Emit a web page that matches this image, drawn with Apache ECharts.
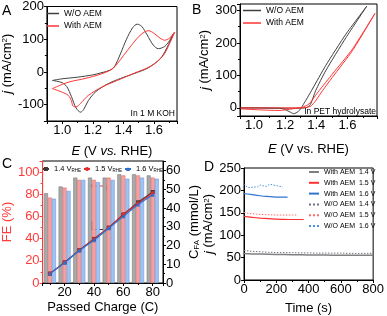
<!DOCTYPE html>
<html><head><meta charset="utf-8">
<script src="https://cdn.jsdelivr.net/npm/echarts@6/dist/echarts.min.js"></script>
<style>html,body{margin:0;padding:0;background:#fff}#c{width:387px;height:316px}</style>
</head><body><div id="c"></div>
<script>
const FF = 'Liberation Sans';
// ---------- Panel A: CV in 1 M KOH ----------
const cvA_woAEM = [[0.936,-26],[1.0,-21],[1.1,-16],[1.2,-9],[1.26,-2],[1.31,5],[1.34,15],[1.38,55],[1.42,100],[1.46,135],[1.49,146],[1.52,139],[1.555,113],[1.595,82],[1.628,71],[1.67,78],[1.70,95],[1.73,120],
  [1.68,70],[1.64,40],[1.56,12],[1.47,-5],[1.38,-20],[1.30,-36],[1.22,-60],[1.17,-88],[1.14,-115],[1.12,-123],[1.09,-110],[1.06,-75],[1.03,-45],[1.0,-33],[0.936,-26]];
const cvA_withAEM = [[0.936,-51],[1.0,-38],[1.05,-30],[1.15,-20],[1.25,-7],[1.32,7],[1.36,25],[1.40,50],[1.45,80],[1.50,108],[1.54,123],[1.565,126],[1.60,118],[1.64,103],[1.67,97],[1.70,103],[1.735,121],
  [1.70,85],[1.66,50],[1.58,18],[1.47,-4],[1.36,-26],[1.26,-46],[1.17,-72],[1.12,-96],[1.09,-107],[1.07,-104],[1.06,-88],[1.04,-72],[1.0,-62],[0.936,-51]];
const xTicksA = [1.0,1.2,1.4,1.6];
const yTicksA = [-100,0,100,200];
// ---------- Panel B: PET hydrolysate ----------
const cvB_woAEM = [[0.914,0],[1.0,0],[1.1,-1],[1.18,-2],[1.225,-11],[1.255,-18],[1.285,-11],[1.31,5],[1.375,58],[1.46,130],[1.59,227],[1.724,313],
  [1.59,216],[1.46,114],[1.396,53],[1.364,12],[1.343,2],[1.3,-1],[1.2,-1],[1.0,0],[0.914,0]];
const cvB_withAEM = [[0.914,-3],[1.03,-6],[1.16,-8],[1.246,-3],[1.31,2],[1.353,12],[1.418,53],[1.503,104],[1.632,181],[1.777,291],
  [1.632,176],[1.503,94],[1.44,53],[1.396,22],[1.364,5],[1.31,0],[1.1,0],[0.914,0]];
const xTicksB = [1.0,1.2,1.4,1.6];
const yTicksB = [0,100,200,300];
// ---------- Panel C: FE and C_FA ----------
const charge = [10,20,30,40,50,60,70,80];
const fe14 = [81,87,95,95,95,98,98,97];
const fe15 = [77,86,93,93,95,97,97,95];
const fe16 = [76,83,93,91,93,94,95,94];
const cfa14 = [5,11,17.5,23.5,29.5,36.5,43,48.5];
const cfa15 = [5,11,17.5,23.5,29.5,36.5,42.5,48];
const cfa16 = [5,10.8,17.3,22.8,29.2,35.5,41.8,47];
const xTicksC = [20,40,60,80];
const yTicksCL = [0,20,40,60,80,100];
const yTicksCR = [0,10,20,30,40,50,60];
// ---------- Panel D: chronoamperometry ----------
const tD_14 = [0,50,100,150,200,250,300,350,400,450,500,550,600,650,700,750,800];
const jWith14 = [59,58,58,57.5,57,57,56.5,56.5,56,56,56,55.5,55.5,55.5,55,55,55];
const jWo14 = [66,64,63,62,61.5,61,61,60.5,60.5,60,60,60,60,59.5,59.5,59.5,59.5];
const tD_with15 = [0,25,50,75,100,125,150,175,200,225,250,275,300,325,350,370];
const jWith15 = [142,141,140,139,138,137.5,137,136.5,136,135.5,135.5,135,135,135,135,135];
const tD_wo15 = [0,25,50,75,100,125,150,175,200,225,250,275,300,330];
const jWo15 = [151,149,148,147,146.5,146,145.5,145.5,145,145,145,145,145,145];
const tD_with16 = [0,20,40,60,80,100,120,140,160,180,200,220,240,260,270];
const jWith16 = [193,192,191,190,189,188,187,186.5,186,185.5,185,185,185,185,185];
const tD_wo16 = [0,10,20,30,40,50,60,70,80,90,100,110,120,130,140,150,160,170,180,190,200,210,220,230,240];
const jWo16 = [215,212,207,209,206,210,208,211,207,209,212,208,210,213,209,211,214,210,212,216,211,215,209,212,208];
const xTicksD = [0,200,400,600,800];

const zip = (xs, ys) => xs.map((x,i)=>[x, ys[i]]);
const inList = (list) => (v) => list.some(t => Math.abs(t - v) < 1e-6) ? String(Number(v.toFixed(1))) : '';
const DOTS = 'path://M0,0h2v2h-2z M4,0h2v2h-2z M8,0h2v2h-2z';

function axisCommon(color){
  color = color || '#000';
  return {
    axisLine: {show: true, onZero: false, lineStyle: {color: color, width: 1}},
    axisTick: {show: true, inside: false, length: 3, lineStyle: {color: color, width: 1}},
    minorTick: {show: true, splitNumber: 2, length: 2, lineStyle: {color: color, width: 1}},
    splitLine: {show: false},
    axisLabel: {fontFamily: FF, fontSize: 13, color: color, margin: 3},
  };
}
const rich = {
  i: {fontStyle: 'italic', fontFamily: FF, fontSize: 13, color: '#000'},
  sup: {fontFamily: FF, fontSize: 8, verticalAlign: 'top', color: '#000'},
  n: {fontFamily: FF, fontSize: 13, color: '#000'}
};

const chart = echarts.init(document.getElementById('c'));
const option = {
  animation: false,
  textStyle: {fontFamily: FF},
  grid: [
    {left: 45, top: 5, width: 132, height: 116, show: true, borderColor: '#000', borderWidth: 1},
    {left: 240, top: 4, width: 137, height: 112, show: true, borderColor: '#000', borderWidth: 1},
    {left: 41, top: 161, width: 122, height: 122, show: true, borderColor: '#000', borderWidth: 1},
    {left: 244, top: 168, width: 131, height: 112, show: true, borderColor: '#000', borderWidth: 1}
  ],
  xAxis: [
    Object.assign(axisCommon(), {type: 'value', gridIndex: 0, min: 0.9, max: 1.75,
      axisLabel: Object.assign(axisCommon().axisLabel, {formatter: v => inList(xTicksA)(v) ? v.toFixed(1) : ''}),
      name: '{i|E} (V {i|vs.} RHE)', nameLocation: 'middle', nameGap: 24,
      nameTextStyle: {fontFamily: FF, fontSize: 13, color: '#000', rich: rich}}),
    Object.assign(axisCommon(), {type: 'value', gridIndex: 1, min: 0.91, max: 1.79,
      axisLabel: Object.assign(axisCommon().axisLabel, {formatter: v => inList(xTicksB)(v) ? v.toFixed(1) : ''}),
      name: '{i|E} (V vs. RHE)', nameLocation: 'middle', nameGap: 27,
      nameTextStyle: {fontFamily: FF, fontSize: 13, color: '#000', rich: rich}}),
    Object.assign(axisCommon(), {type: 'value', gridIndex: 2, min: 5, max: 87,
      axisLabel: Object.assign(axisCommon().axisLabel, {formatter: v => inList(xTicksC)(v)}),
      name: 'Passed Charge (C)', nameLocation: 'middle', nameGap: 18,
      nameTextStyle: {fontFamily: FF, fontSize: 13, color: '#000'}}),
    Object.assign(axisCommon(), {type: 'value', gridIndex: 3, min: 0, max: 800, interval: 200,
      axisLabel: Object.assign(axisCommon().axisLabel, {formatter: v => inList(xTicksD)(v)}),
      name: 'Time (s)', nameLocation: 'middle', nameGap: 22,
      nameTextStyle: {fontFamily: FF, fontSize: 13, color: '#000'}})
  ],
  yAxis: [
    Object.assign(axisCommon(), {type: 'value', gridIndex: 0, min: -150, max: 200,
      axisLabel: Object.assign(axisCommon().axisLabel, {formatter: v => inList(yTicksA)(v)}),
      name: '{i|j} (mA/cm{sup|2})', nameLocation: 'middle', nameGap: 28, nameRotate: 90,
      nameTextStyle: {fontFamily: FF, fontSize: 13, color: '#000', rich: rich}}),
    Object.assign(axisCommon(), {type: 'value', gridIndex: 1, min: -25, max: 320, splitNumber: 3,
      axisLabel: Object.assign(axisCommon().axisLabel, {formatter: v => inList(yTicksB)(v)}),
      name: '{i|j} (mA/cm{sup|2})', nameLocation: 'middle', nameGap: 28, nameRotate: 90,
      nameTextStyle: {fontFamily: FF, fontSize: 13, color: '#000', rich: rich}}),
    Object.assign(axisCommon('#ff3b3b'), {type: 'value', gridIndex: 2, min: 0, max: 110, position: 'left',
      axisLabel: Object.assign(axisCommon('#ff3b3b').axisLabel, {formatter: v => inList(yTicksCL)(v)}),
      name: 'FE (%)', nameLocation: 'middle', nameGap: 26, nameRotate: 90,
      nameTextStyle: {fontFamily: FF, fontSize: 13, color: '#ff3b3b'}}),
    Object.assign(axisCommon(), {type: 'value', gridIndex: 2, min: 0, max: 65, position: 'right',
      axisLabel: Object.assign(axisCommon().axisLabel, {formatter: v => inList(yTicksCR)(v)}),
      name: '{n|C}{sup2|FA} (mmol/L)', nameLocation: 'middle', nameGap: 25, nameRotate: 90,
      nameTextStyle: {fontFamily: FF, fontSize: 13, color: '#000',
        rich: {n: {fontFamily: FF, fontSize: 13, color: '#000'}, sup2: {fontFamily: FF, fontSize: 8, verticalAlign: 'bottom', color: '#000'}}}}),
    Object.assign(axisCommon(), {type: 'value', gridIndex: 3, min: 0, max: 250, interval: 50,
      minorTick: {show: false},
      name: '{i|j} (mA/cm{sup|2})', nameLocation: 'middle', nameGap: 28, nameRotate: 90,
      nameTextStyle: {fontFamily: FF, fontSize: 13, color: '#000', rich: rich}})
  ],
  legend: [
    {id: 'lgA', data: ['W/O AEM', 'With AEM'], left: 47, top: 9, orient: 'vertical', itemGap: 3.5, itemWidth: 12, itemHeight: 1.5,
      icon: 'rect', textStyle: {fontFamily: FF, fontSize: 8.5, color: '#000', lineHeight: 9}, padding: 0},
    {id: 'lgB', data: ['W/O AEM', 'With AEM'], left: 243, top: 6, orient: 'vertical', itemGap: 3.5, itemWidth: 18, itemHeight: 1.5,
      icon: 'rect', textStyle: {fontFamily: FF, fontSize: 8.5, color: '#000', lineHeight: 9}, padding: 0},
    {id: 'lgC', data: ['1.4 V', '1.5 V', '1.6 V'], left: 42, top: 165, orient: 'horizontal', itemGap: 2, itemWidth: 6, itemHeight: 5,
      formatter: n => '{a|' + n + '}{s|RHE}',
      textStyle: {fontFamily: FF, fontSize: 7.5, color: '#000', rich: {a: {fontFamily: FF, fontSize: 7.5}, s: {fontFamily: FF, fontSize: 4.5, verticalAlign: 'bottom'}}}, padding: 0},
    {id: 'lgD', data: [
        {name: 'With AEM  1.4 V', icon: 'rect'}, {name: 'With AEM  1.5 V', icon: 'rect'}, {name: 'With AEM  1.6 V', icon: 'rect'},
        {name: 'W/O AEM  1.4 V', icon: DOTS}, {name: 'W/O AEM  1.5 V', icon: DOTS}, {name: 'W/O AEM  1.6 V', icon: DOTS}],
      left: 309, top: 168, orient: 'vertical', itemGap: 2.8, itemWidth: 10, itemHeight: 2,
      textStyle: {fontFamily: FF, fontSize: 7, color: '#000', lineHeight: 8}, padding: 0}
  ],
  series: [
    {type: 'line', name: 'W/O AEM', xAxisIndex: 0, yAxisIndex: 0, data: cvA_woAEM, symbol: 'none', smooth: 0.3,
      lineStyle: {color: '#404040', width: 1}, itemStyle: {color: '#404040'}},
    {type: 'line', name: 'With AEM', xAxisIndex: 0, yAxisIndex: 0, data: cvA_withAEM, symbol: 'none', smooth: 0.3,
      lineStyle: {color: '#ff3333', width: 1}, itemStyle: {color: '#ff3333'}},
    {type: 'line', name: 'W/O AEM', xAxisIndex: 1, yAxisIndex: 1, data: cvB_woAEM, symbol: 'none', smooth: 0.2,
      lineStyle: {color: '#404040', width: 1}, itemStyle: {color: '#404040'}},
    {type: 'line', name: 'With AEM', xAxisIndex: 1, yAxisIndex: 1, data: cvB_withAEM, symbol: 'none', smooth: 0.2,
      lineStyle: {color: '#ff3333', width: 1}, itemStyle: {color: '#ff3333'}},
    // Panel C bars
    {type: 'bar', name: 'FE 1.4', xAxisIndex: 2, yAxisIndex: 2, data: zip(charge, fe14), barWidth: 4, barGap: '0%',
      itemStyle: {color: '#a9a9a9', borderColor: '#707070', borderWidth: 0.5}},
    {type: 'bar', name: 'FE 1.5', xAxisIndex: 2, yAxisIndex: 2, data: zip(charge, fe15), barWidth: 4, barGap: '0%',
      itemStyle: {color: '#f5a0a0', borderColor: '#e06868', borderWidth: 0.5}},
    {type: 'bar', name: 'FE 1.6', xAxisIndex: 2, yAxisIndex: 2, data: zip(charge, fe16), barWidth: 4, barGap: '0%',
      itemStyle: {color: '#9fc2f0', borderColor: '#5f93dc', borderWidth: 0.5}},
    // Panel C lines
    {type: 'line', name: '1.4 V', xAxisIndex: 2, yAxisIndex: 3, data: zip(charge, cfa14), symbol: 'rect', symbolSize: 4,
      lineStyle: {color: '#3a3a3a', width: 1.2}, itemStyle: {color: '#3a3a3a'}, z: 5},
    {type: 'line', name: '1.5 V', xAxisIndex: 2, yAxisIndex: 3, data: zip(charge, cfa15), symbol: 'circle', symbolSize: 4,
      lineStyle: {color: '#e52828', width: 1.2}, itemStyle: {color: '#e52828'}, z: 5},
    {type: 'line', name: '1.6 V', xAxisIndex: 2, yAxisIndex: 3, data: zip(charge, cfa16), symbol: 'triangle', symbolSize: 4,
      lineStyle: {color: '#2f6fd0', width: 1.2}, itemStyle: {color: '#2f6fd0'}, z: 6},
    // Panel D
    {type: 'line', name: 'With AEM  1.4 V', xAxisIndex: 3, yAxisIndex: 4, data: zip(tD_14, jWith14), symbol: 'none',
      lineStyle: {color: '#808080', width: 1.5}, itemStyle: {color: '#808080'}},
    {type: 'line', name: 'With AEM  1.5 V', xAxisIndex: 3, yAxisIndex: 4, data: zip(tD_with15, jWith15), symbol: 'none',
      lineStyle: {color: '#ff3030', width: 1.2}, itemStyle: {color: '#ff3030'}},
    {type: 'line', name: 'With AEM  1.6 V', xAxisIndex: 3, yAxisIndex: 4, data: zip(tD_with16, jWith16), symbol: 'none',
      lineStyle: {color: '#2f74d0', width: 1.2}, itemStyle: {color: '#2f74d0'}},
    {type: 'line', name: 'W/O AEM  1.4 V', xAxisIndex: 3, yAxisIndex: 4, data: zip(tD_14, jWo14), symbol: 'none',
      lineStyle: {color: '#707080', width: 1, type: [1.5, 1.5]}, itemStyle: {color: '#707080'}},
    {type: 'line', name: 'W/O AEM  1.5 V', xAxisIndex: 3, yAxisIndex: 4, data: zip(tD_wo15, jWo15), symbol: 'none',
      lineStyle: {color: '#ff6a6a', width: 1, type: [1.5, 1.5]}, itemStyle: {color: '#ff6a6a'}},
    {type: 'line', name: 'W/O AEM  1.6 V', xAxisIndex: 3, yAxisIndex: 4, data: zip(tD_wo16, jWo16), symbol: 'none',
      lineStyle: {color: '#4a90e2', width: 1, type: [1.5, 1.5]}, itemStyle: {color: '#4a90e2'}}
  ],
  graphic: [
    {type: 'text', left: 2, top: 4, style: {text: 'A', fontFamily: FF, fontSize: 14, fill: '#000'}},
    {type: 'text', left: 192, top: 3, style: {text: 'B', fontFamily: FF, fontSize: 14, fill: '#000'}},
    {type: 'text', left: 2, top: 157, style: {text: 'C', fontFamily: FF, fontSize: 14, fill: '#000'}},
    {type: 'text', left: 204, top: 160, style: {text: 'D', fontFamily: FF, fontSize: 14, fill: '#000'}},
    {type: 'text', right: 387 - 175, top: 109, style: {text: 'In 1 M KOH', fontFamily: FF, fontSize: 8.5, fill: '#000'}},
    {type: 'text', right: 387 - 376, top: 107, style: {text: 'In PET hydrolysate', fontFamily: FF, fontSize: 8.5, fill: '#000'}},
    {type: 'polyline', shape: {points: [[106, 191], [106, 186], [91, 186]]}, style: {stroke: '#ff3b3b', lineWidth: 1, fill: null}},
    {type: 'polygon', shape: {points: [[88, 186], [92, 184], [92, 188]]}, style: {fill: '#ff3b3b'}},
    {type: 'polyline', shape: {points: [[92, 221], [92, 229.5], [108, 229.5]]}, style: {stroke: '#333', lineWidth: 1, fill: null}},
    {type: 'polygon', shape: {points: [[111, 229.5], [107, 227.5], [107, 231.5]]}, style: {fill: '#333'}}
  ]
};
chart.setOption(option);
</script></body></html>
